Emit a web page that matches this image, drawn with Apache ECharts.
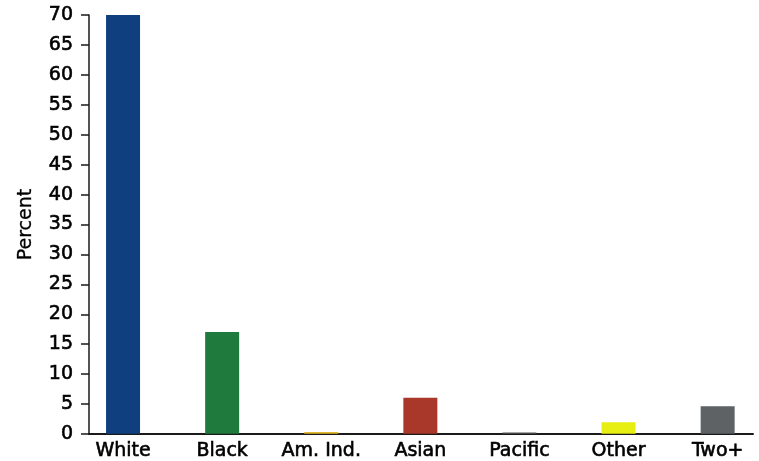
<!DOCTYPE html>
<html>
<head>
<meta charset="utf-8">
<script src="https://cdn.jsdelivr.net/npm/echarts@6/dist/echarts.min.js"></script>
<style>
  html, body { margin: 0; padding: 0; background: #ffffff; overflow: hidden; }
  #chart { width: 800px; height: 461px; }
</style>
</head>
<body>
<div id="chart"></div>
<script>
// Population share by race (percent)
const categories = ['White', 'Black', 'Am. Ind.', 'Asian', 'Pacific', 'Other', 'Two+'];
const percents = [70.0, 17.0, 0.3, 6.0, 0.2, 1.9, 4.6];
const barColors = ['#0f3f7e', '#1f7a3e', '#e3b92c', '#a9372a', '#555555', '#e6ee12', '#5e6264'];
const yTicks = { min: 0, max: 70, step: 5 };

const fontFamily = 'DejaVu Sans, Verdana, sans-serif';
// slightly heavier strokes for all text
const heavyText = { color: '#000', fontFamily: fontFamily, fontSize: 19, textBorderColor: '#000', textBorderWidth: 0.6 };
const chart = echarts.init(document.getElementById('chart'), null, { renderer: 'canvas' });

chart.setOption({
  animation: false,
  backgroundColor: '#ffffff',
  grid: [
    // bars and category labels
    { left: 73.5, top: 15, bottom: 27, width: 693.7, containLabel: false },
    // value axis and baseline
    { left: 89, right: 47, top: 15, bottom: 27, containLabel: false }
  ],
  xAxis: [
    {
      gridIndex: 0,
      type: 'category',
      data: categories,
      axisLine: { show: false },
      axisTick: { show: false },
      axisLabel: Object.assign({ margin: 8, interval: 0 }, heavyText)
    },
    {
      gridIndex: 1,
      type: 'value',
      min: 0,
      max: 1,
      axisLine: { show: true, onZero: false, lineStyle: { color: '#1a1a1a', width: 2 } },
      axisTick: { show: false },
      axisLabel: { show: false },
      splitLine: { show: false }
    }
  ],
  yAxis: [
    {
      gridIndex: 0,
      type: 'value',
      min: yTicks.min,
      max: yTicks.max,
      interval: yTicks.step,
      show: false
    },
    {
      gridIndex: 1,
      type: 'value',
      min: yTicks.min,
      max: yTicks.max,
      interval: yTicks.step,
      name: 'Percent',
      nameLocation: 'middle',
      nameGap: 53,
      nameTextStyle: Object.assign({}, heavyText, { textBorderWidth: 0.3 }),
      axisLine: { show: true, lineStyle: { color: '#1a1a1a', width: 1.5 } },
      axisTick: { show: true, length: 8, lineStyle: { color: '#1a1a1a', width: 1.5 } },
      axisLabel: Object.assign({ margin: 16 }, heavyText),
      splitLine: { show: false }
    }
  ],
  series: [
    {
      type: 'bar',
      xAxisIndex: 0,
      yAxisIndex: 0,
      barWidth: 34,
      data: percents.map((v, i) => ({ value: v, itemStyle: { color: barColors[i] } }))
    }
  ]
});
</script>
</body>
</html>
